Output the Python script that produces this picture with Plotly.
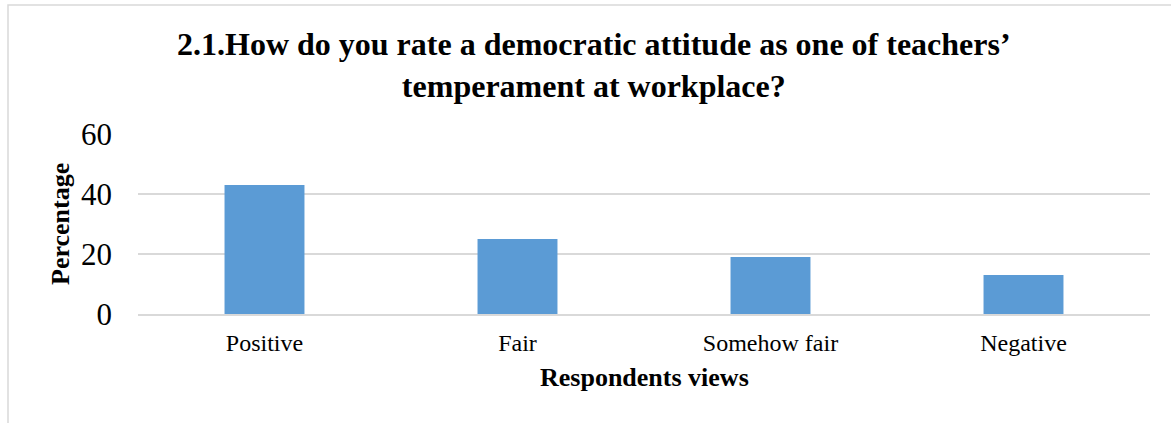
import plotly.graph_objects as go

# Survey responses (percent of respondents)
categories = ["Positive", "Fair", "Somehow fair", "Negative"]
percentages = [43, 25, 19, 13]
y_ticks = [0, 20, 40, 60]

W, H = 1171, 423
L, R, T, B = 138, 21, 134, 109
PW, PH = W - L - R, H - T - B


def px_x(px):
    return (px - L) / PW


def px_y(py):
    return (H - B - py) / PH


serif = "Liberation Serif, Times New Roman, serif"

fig = go.Figure(
    go.Bar(
        x=categories,
        y=percentages,
        marker=dict(color="#5B9BD5", line=dict(width=0)),
        width=0.316,
    )
)

fig.update_layout(
    width=W,
    height=H,
    margin=dict(l=L, r=R, t=T, b=B),
    paper_bgcolor="white",
    plot_bgcolor="white",
    showlegend=False,
    font=dict(family=serif, color="black"),
    bargap=0.684,
)

fig.update_xaxes(
    showgrid=False,
    showline=True,
    linecolor="#D9D9D9",
    linewidth=1.5,
    tickfont=dict(size=24, family=serif, color="black"),
    ticks="",
    ticklabelstandoff=6,
)
fig.update_yaxes(
    range=[0, 60],
    tickvals=y_ticks,
    showgrid=True,
    gridcolor="#D9D9D9",
    gridwidth=1.5,
    zeroline=False,
    showline=False,
    tickfont=dict(size=31, family=serif, color="black"),
    ticklabelstandoff=25,
)

# Chart frame
fig.add_shape(
    type="rect",
    xref="paper",
    yref="paper",
    x0=px_x(8),
    x1=px_x(1181),
    y0=px_y(440),
    y1=px_y(5),
    line=dict(color="#D9D9D9", width=1.5),
    fillcolor="rgba(0,0,0,0)",
    layer="below",
)

# Title
fig.add_annotation(
    text="<b>2.1.How do you rate a democratic attitude as one of teachers’<br>temperament at workplace?</b>",
    xref="paper",
    yref="paper",
    x=px_x(594),
    y=px_y(24),
    xanchor="center",
    yanchor="top",
    showarrow=False,
    font=dict(size=32, family=serif, color="black"),
    align="center",
)

# Axis titles
fig.add_annotation(
    text="<b>Respondents views</b>",
    xref="paper",
    yref="paper",
    x=px_x(644),
    y=px_y(377),
    xanchor="center",
    yanchor="middle",
    showarrow=False,
    font=dict(size=26, family=serif, color="black"),
)
fig.add_annotation(
    text="<b>Percentage</b>",
    xref="paper",
    yref="paper",
    x=px_x(60),
    y=px_y(224),
    xanchor="center",
    yanchor="middle",
    textangle=-90,
    showarrow=False,
    font=dict(size=26, family=serif, color="black"),
)

fig.write_html("out.html")
